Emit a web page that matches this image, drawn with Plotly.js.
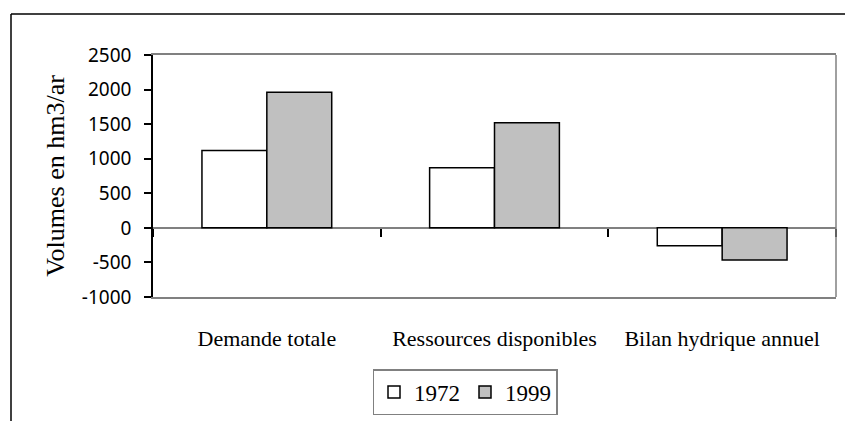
<!DOCTYPE html>
<html>
<head>
<meta charset="utf-8">
<script src="https://cdn.plot.ly/plotly-3.0.1.min.js"></script>
<style>
  html, body { margin: 0; padding: 0; background: #fff; }
  #chart { width: 845px; height: 421px; }
</style>
</head>
<body>
<div id="chart"></div>
<script>
const categories = ["Demande totale", "Ressources disponibles", "Bilan hydrique annuel"];
const seriesNames = ["1972", "1999"];
const values1972 = [1120, 870, -260];
const values1999 = [1960, 1520, -465];
const yTickVals = [-1000, -500, 0, 500, 1000, 1500, 2000, 2500];
const yTitle = "Volumes en hm3/ar";

const serif = "Liberation Serif, Times New Roman, serif";
const sans = "Noto Sans, DejaVu Sans, sans-serif";

const traces = [
  {
    type: "bar", name: seriesNames[0], x: categories, y: values1972,
    marker: { color: "#ffffff", line: { color: "#000000", width: 1.5 } },
    hoverinfo: "x+y"
  },
  {
    type: "bar", name: seriesNames[1], x: categories, y: values1999,
    marker: { color: "#c0c0c0", line: { color: "#000000", width: 1.5 } },
    hoverinfo: "x+y"
  },
  {
    type: "scatter", mode: "none", x: categories, y: categories.map(() => 0),
    xaxis: "x2", showlegend: false, hoverinfo: "skip"
  }
];

const yMin = -1000, yMax = 2500;

const layout = {
  width: 845, height: 421,
  margin: { l: 153, r: 9, t: 55, b: 124, autoexpand: false },
  paper_bgcolor: "#ffffff", plot_bgcolor: "#ffffff",
  barmode: "group", bargap: 0.43, bargroupgap: 0,
  showlegend: true,
  legend: {
    orientation: "h", xref: "container", yref: "container",
    x: 465 / 845, xanchor: "center", y: 1 - 369 / 421, yanchor: "top",
    bordercolor: "#808080", borderwidth: 1.5, bgcolor: "#ffffff",
    font: { family: serif, size: 23, color: "#000" },
    itemwidth: 30, traceorder: "normal"
  },
  xaxis: {
    type: "category", categoryarray: categories, automargin: false,
    showline: true, linecolor: "#808080", linewidth: 1.5, mirror: true,
    ticks: "", showgrid: false, zeroline: false,
    tickfont: { family: serif, size: 22, color: "#000" },
    ticklabelstandoff: 21
  },
  xaxis2: {
    type: "category", categoryarray: categories, overlaying: "x", matches: "x",
    anchor: "free", position: (0 - yMin) / (yMax - yMin),
    showline: false, showgrid: false, zeroline: false,
    ticks: "outside", tickson: "boundaries", ticklen: 8, tickwidth: 1.5, tickcolor: "#000",
    showticklabels: false
  },
  yaxis: {
    range: [yMin, yMax], tickvals: yTickVals, ticktext: yTickVals.map(String),
    automargin: false,
    showline: true, linecolor: "#000000", linewidth: 1.5,
    ticks: "outside", ticklen: 7, tickwidth: 1.5, tickcolor: "#000",
    showgrid: false,
    zeroline: true, zerolinecolor: "#808080", zerolinewidth: 1.5,
    tickfont: { family: sans, size: 19, color: "#000" },
    ticklabelstandoff: 9,
    title: { text: yTitle, font: { family: serif, size: 26, color: "#000" }, standoff: 10 }
  },
  shapes: [
    { type: "line", xref: "paper", yref: "paper", x0: 1, x1: 1, y0: 0, y1: 1,
      line: { color: "#808080", width: 1.5 } },
    { type: "line", xref: "paper", yref: "paper", x0: (11 - 153) / 683, x1: (845 - 153) / 683,
      y0: (297 - 14) / 242, y1: (297 - 14) / 242, line: { color: "#000", width: 1.5 } },
    { type: "line", xref: "paper", yref: "paper", x0: (11 - 153) / 683, x1: (11 - 153) / 683,
      y0: (297 - 14) / 242, y1: (297 - 425) / 242, line: { color: "#000", width: 1.5 } }
  ]
};

Plotly.newPlot("chart", traces, layout, { displayModeBar: false, responsive: false });
</script>
</body>
</html>
